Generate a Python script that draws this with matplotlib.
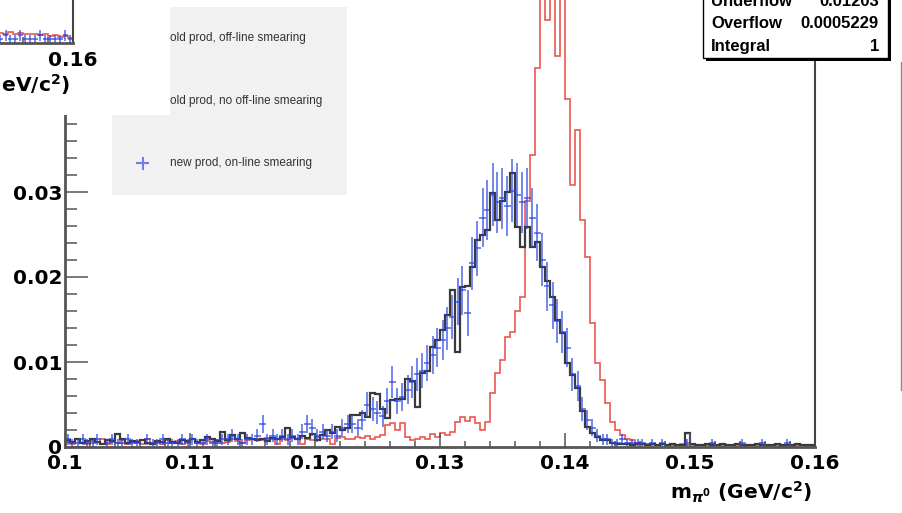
import numpy as np
import matplotlib
matplotlib.use('Agg')
import matplotlib.pyplot as plt
from matplotlib.patches import Rectangle
from matplotlib.lines import Line2D
from matplotlib.ticker import MultipleLocator, FuncFormatter

plt.rcParams['font.family'] = ['DejaVu Sans']
plt.rcParams['font.weight'] = 'bold'
plt.rcParams['mathtext.fontset'] = 'dejavusans'

# pi0 mass spectrum, 150 bins of 0.4 MeV between 0.10 and 0.16 GeV/c^2
edges = np.linspace(0.10, 0.16, 151)
centers = 0.5 * (edges[:-1] + edges[1:])

# old production, off-line smearing (red)
old_offline = [
    0.0006, 0.0004, 0.0009, 0.0005, 0.0003, 0.0007, 0.0006, 0.0010, 0.0004, 0.0006,
    0.0005, 0.0008, 0.0003, 0.0006, 0.0007, 0.0004, 0.0009, 0.0005, 0.0006, 0.0003,
    0.0008, 0.0005, 0.0007, 0.0004, 0.0006, 0.0009, 0.0005, 0.0004, 0.0007, 0.0006,
    0.0008, 0.0005, 0.0006, 0.0010, 0.0007, 0.0005, 0.0008, 0.0009, 0.0010, 0.0008,
    0.0011, 0.0009, 0.0004, 0.0010, 0.0008, 0.0011, 0.0009, 0.0003, 0.0010, 0.0008,
    0.0012, 0.0009, 0.0010, 0.0003, 0.0011, 0.0012, 0.0010, 0.0009, 0.0012, 0.0011,
    0.0013, 0.0010, 0.0012, 0.0014, 0.0026, 0.0028, 0.0020, 0.0028, 0.0012, 0.0008,
    0.0010, 0.0012, 0.0009, 0.0015, 0.0012, 0.0016, 0.0014, 0.0018, 0.0030, 0.0035,
    0.0031, 0.0035, 0.0028, 0.0020, 0.0030, 0.0063, 0.0087, 0.0102, 0.0130, 0.0135,
    0.0160, 0.0176, 0.0290, 0.0344, 0.0446, 0.0560, 0.0502, 0.0580, 0.0460, 0.0570,
    0.0410, 0.0308, 0.0373, 0.0267, 0.0224, 0.0146, 0.0099, 0.0079, 0.0052, 0.0030,
    0.0020, 0.0014, 0.0009, 0.0008, 0.0005, 0.0004, 0.0004, 0.0003, 0.0002, 0.0003,
    0.0002, 0.0001, 0.0002, 0.0003, 0.0002, 0.0001, 0.0002, 0.0002, 0.0001, 0.0003,
    0.0002, 0.0001, 0.0002, 0.0002, 0.0001, 0.0002, 0.0001, 0.0002, 0.0001, 0.0002,
    0.0001, 0.0002, 0.0001, 0.0001, 0.0002, 0.0001, 0.0001, 0.0002, 0.0001, 0.0001,
]

# old production, no off-line smearing (black)
old_nosmear = [
    0.0008, 0.0006, 0.0010, 0.0005, 0.0007, 0.0009, 0.0006, 0.0004, 0.0008, 0.0007,
    0.0015, 0.0009, 0.0005, 0.0007, 0.0006, 0.0008, 0.0005, 0.0004, 0.0007, 0.0006,
    0.0009, 0.0006, 0.0005, 0.0008, 0.0007, 0.0010, 0.0006, 0.0008, 0.0012, 0.0009,
    0.0007, 0.0018, 0.0008, 0.0014, 0.0009, 0.0017, 0.0011, 0.0009, 0.0008, 0.0010,
    0.0007, 0.0011, 0.0009, 0.0012, 0.0022, 0.0012, 0.0009, 0.0013, 0.0011, 0.0015,
    0.0008, 0.0014, 0.0020, 0.0016, 0.0024, 0.0020, 0.0022, 0.0038, 0.0038, 0.0040,
    0.0035, 0.0063, 0.0062, 0.0045, 0.0034, 0.0055, 0.0056, 0.0057, 0.0080, 0.0078,
    0.0047, 0.0087, 0.0090, 0.0118, 0.0126, 0.0138, 0.0155, 0.0185, 0.0112, 0.0188,
    0.0190, 0.0212, 0.0244, 0.0250, 0.0255, 0.0299, 0.0267, 0.0290, 0.0300, 0.0322,
    0.0259, 0.0235, 0.0259, 0.0235, 0.0241, 0.0212, 0.0195, 0.0176, 0.0150, 0.0134,
    0.0099, 0.0085, 0.0070, 0.0042, 0.0024, 0.0016, 0.0012, 0.0008, 0.0008, 0.0005,
    0.0004, 0.0003, 0.0004, 0.0002, 0.0003, 0.0003, 0.0002, 0.0004, 0.0002, 0.0003,
    0.0002, 0.0003, 0.0002, 0.0002, 0.0016, 0.0003, 0.0002, 0.0002, 0.0003, 0.0002,
    0.0002, 0.0003, 0.0002, 0.0002, 0.0003, 0.0002, 0.0002, 0.0002, 0.0003, 0.0002,
    0.0002, 0.0002, 0.0003, 0.0002, 0.0002, 0.0002, 0.0003, 0.0002, 0.0002, 0.0002,
]

# new production, on-line smearing: entries per bin, each entry weighted
new_counts = [
    2, 1, 1, 2, 1, 1, 2, 0, 1, 2,
    1, 1, 2, 1, 1, 0, 2, 1, 1, 2,
    1, 1, 1, 2, 1, 2, 1, 1, 2, 1,
    1, 2, 2, 3, 2, 1, 2, 2, 3, 6,
    2, 3, 2, 3, 2, 3, 2, 4, 6, 5,
    3, 4, 3, 4, 3, 5, 6, 6, 5, 7,
    11, 10, 9, 8, 12, 17, 12, 13, 15, 17,
    19, 20, 22, 24, 26, 28, 31, 34, 38, 41,
    35, 48, 52, 60, 62, 66, 64, 65, 63, 67,
    66, 64, 65, 60, 56, 49, 42, 37, 33, 30,
    26, 19, 16, 10, 7, 5, 3, 2, 2, 1,
    1, 2, 1, 1, 1, 1, 0, 1, 0, 1,
    0, 0, 0, 0, 1, 0, 0, 0, 0, 1,
    0, 0, 0, 0, 0, 1, 0, 0, 0, 1,
    0, 0, 0, 0, 1, 0, 0, 0, 0, 0,
]
new_weight = 0.00045

# tail of the neighbouring pad (0.154 - 0.160)
pad2_red = [0.0012, 0.0011, 0.0013, 0.0010, 0.0012, 0.0011, 0.0010, 0.0011,
            0.0009, 0.0010, 0.0008, 0.0009, 0.0007, 0.0008, 0.0006]
pad2_counts = [1, 2, 1, 1, 2, 1, 1, 1, 2, 1, 1, 1, 1, 2, 1]

stats_names = ['Underflow', 'Overflow', 'Integral']
stats_values = ['0.01203', '0.0005229', '1']

legend_labels = ['old prod, off-line smearing',
                 'old prod, no off-line smearing',
                 'new prod, on-line smearing']

RED = '#e6463c'
BLACK = '#3a3a3a'
BLUE = '#2440e4'
AXC = '#555555'

W, H = 903, 513
fig = plt.figure(figsize=(W / 100, H / 100), dpi=100)
fig.patch.set_facecolor('white')


def box(x, y, w, h):
    # pixel box measured from the top-left corner -> figure fraction
    return [x / W, 1 - (y + h) / H, w / W, h / H]


def fx(x):
    return x / W


def fy(y):
    return 1 - y / H


def fmt(v, pos):
    return f'{v:g}'


def style_axis(ax):
    ax.xaxis.set_major_locator(MultipleLocator(0.01))
    ax.xaxis.set_minor_locator(MultipleLocator(0.002))
    ax.yaxis.set_major_locator(MultipleLocator(0.01))
    ax.yaxis.set_minor_locator(MultipleLocator(0.002))
    ax.xaxis.set_major_formatter(FuncFormatter(fmt))
    ax.yaxis.set_major_formatter(FuncFormatter(fmt))
    ax.tick_params(which='both', direction='in', color=AXC, width=1.1,
                   labelsize=14.5, labelcolor='black')
    ax.tick_params(axis='y', which='major', length=16.5, pad=2)
    ax.tick_params(axis='y', which='minor', length=8.5)
    ax.tick_params(axis='x', which='major', length=10, pad=5)
    ax.tick_params(axis='x', which='minor', length=4.5)
    ax.spines['top'].set_visible(False)
    for side in ['left', 'bottom']:
        ax.spines[side].set_color(AXC)
        ax.spines[side].set_linewidth(2)
    ax.spines['right'].set_color('#444444')
    ax.spines['right'].set_linewidth(1.5)


# main pad
ax = fig.add_axes(box(65, 447 - 510, 750, 510))
ax.set_xlim(0.10, 0.16)
ax.set_ylim(0, 0.06)
style_axis(ax)

ax.stairs(old_offline, edges, color=RED, lw=1.2, alpha=0.9)
ax.stairs(old_nosmear, edges, color=BLACK, lw=1.6)
n = np.array(new_counts)
m = n > 0
ax.errorbar(centers[m], n[m] * new_weight, xerr=0.0003,
            yerr=np.sqrt(n[m]) * new_weight, fmt='none',
            ecolor=BLUE, elinewidth=1.3, alpha=0.68, capsize=0)

ax.set_xlabel(r'm$_{\pi^{0}}$ (GeV/c$^{\mathbf{2}}$)', fontsize=14.5,
              fontweight='bold', ha='right', va='center')
ax.xaxis.set_label_coords(1 - 3 / 750, -(492 - 447) / 510)

# legend
fig.add_artist(Rectangle((fx(112), fy(195)), (347 - 112) / W, (195 - 7) / H,
                         transform=fig.transFigure, facecolor='#f1f1f1',
                         edgecolor='none', zorder=1))
for label, y in zip(legend_labels, [38, 101, 163]):
    fig.text(fx(170), fy(y), label, fontsize=8.5, family='Liberation Sans',
             fontweight='normal', color='#333333', va='center', zorder=3)
fig.add_artist(Line2D([fx(128), fx(156)], [fy(38)] * 2, color=RED, lw=1.2,
                      transform=fig.transFigure, zorder=2))
fig.add_artist(Line2D([fx(128), fx(156)], [fy(101)] * 2, color=BLACK, lw=1.6,
                      transform=fig.transFigure, zorder=2))
fig.add_artist(Line2D([fx(137), fx(148)], [fy(163)] * 2, color='#6f7de8',
                      lw=1.5, transform=fig.transFigure, zorder=2))
fig.add_artist(Line2D([fx(142.5)] * 2, [fy(158), fy(169)], color='#6f7de8',
                      lw=1.5, transform=fig.transFigure, zorder=2))

# statistics box with drop shadow
fig.add_artist(Rectangle((fx(706), fy(61)), (888 - 703) / W, 90 / H,
                         transform=fig.transFigure, facecolor='black',
                         edgecolor='none', zorder=1))
fig.add_artist(Rectangle((fx(703), fy(58)), (888 - 703) / W, 90 / H,
                         transform=fig.transFigure, facecolor='white',
                         edgecolor='black', lw=1, zorder=1.5))
for name, val, y in zip(stats_names, stats_values, [1, 24, 47]):
    fig.text(fx(711), fy(y), name, fontsize=12, family='Liberation Sans',
             fontweight='bold', va='center', zorder=3)
    fig.text(fx(879), fy(y), val, fontsize=12, family='Liberation Sans',
             fontweight='bold', va='center', ha='right', zorder=3)

# edge of the neighbouring canvas on the right
fig.add_artist(Line2D([fx(901)] * 2, [fy(62), fy(390)], color='#888888',
                      lw=1, transform=fig.transFigure, zorder=2))

# neighbouring pad overlapping the top-left corner
fig.add_artist(Rectangle((0, fy(115)), 170 / W, 115 / H,
                         transform=fig.transFigure, facecolor='white',
                         edgecolor='none', zorder=5))
ax2 = fig.add_axes(box(-677, 43 - 430, 750, 430), zorder=6)
ax2.set_xlim(0.10, 0.16)
ax2.set_ylim(0, 0.05)
style_axis(ax2)
ax2.tick_params(axis='x', which='major', pad=6)
ax2.stairs(pad2_red, edges[135:], color=RED, lw=1.2, alpha=0.9)
n2 = np.array(pad2_counts)
ax2.errorbar(centers[135:], n2 * new_weight, xerr=0.0002,
             yerr=np.sqrt(n2) * new_weight, fmt='none',
             ecolor=BLUE, elinewidth=1.3, alpha=0.68, capsize=0)
ax2.set_xlabel(r'm$_{\pi^{0}}$ (GeV/c$^{\mathbf{2}}$)', fontsize=14.5,
               fontweight='bold', ha='right', va='center')
ax2.xaxis.set_label_coords((70 + 677) / 750, -(85 - 43) / 430)

fig.savefig('out.png', dpi=100, facecolor='white')
